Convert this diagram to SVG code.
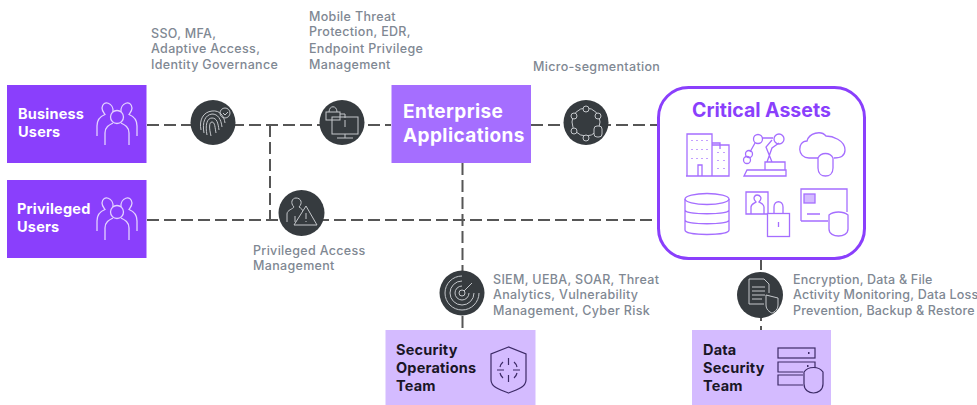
<svg xmlns="http://www.w3.org/2000/svg" width="977" height="405" viewBox="0 0 977 405">
<defs>
<style>
text{font-family:Inter,"Noto Sans","Liberation Sans",sans-serif}
.lbl{font-size:12.500px;font-weight:500;fill:#7f8893;letter-spacing:.32px}
.tight{letter-spacing:.2px}
.w{fill:#fff;font-weight:700;font-size:14.500px;letter-spacing:.2px}
.k{fill:#1a1626;font-weight:700;font-size:14.500px;letter-spacing:.2px}
.e{fill:#fff;font-weight:700;font-size:19px;letter-spacing:.4px}
.conn{fill:none;stroke:#565656;stroke-width:2;stroke-dasharray:12 5}
.disc{fill:#363b3f}
.ic{fill:none;stroke:#c4c7cb;stroke-width:1}
.wi{fill:none;stroke:#e3d2ff;stroke-width:1.300}
.pi{fill:none;stroke:#a56eff;stroke-width:1.300}
.di{fill:none;stroke:#3c2a66;stroke-width:1.200}
</style>
<g id="people">
<path d="M0 -12.500A6.500 6.500 0 1 1 0 0.500A6.500 6.500 0 1 1 0 -12.500Z"/>
<path d="M-12 22V10C-12 4 -8 2 -4 0M12 22V10C12 4 8 2 4 0"/>
<path d="M-4 -11C-3 -20 -14 -24 -15 -15C-15 -12 -13 -10 -12 -8.500C-16 -7 -20 -3 -20 3V13"/>
<path d="M4 -11C3 -20 14 -24 15 -15C15 -12 13 -10 12 -8.500C16 -7 20 -3 20 3V13"/>
</g>
</defs>
<rect width="977" height="405" fill="#fff"/>
<g id="connectors">
<path class="conn" d="M147 125H391"/>
<path class="conn" d="M270 125V220"/>
<path class="conn" d="M147 220H658"/>
<path class="conn" d="M531 125H658"/>
<path class="conn" d="M462.500 163V330"/>
<path class="conn" d="M761 258V330"/>
</g>
<g id="business-users">
<rect x="7" y="85" width="139.500" height="78" fill="#8a3ffc"/>
<text class="w" x="18" y="119">Business</text><text class="w" x="18" y="137">Users</text>
<use href="#people" x="117" y="123" class="wi"/>
</g>
<g id="privileged-users">
<rect x="7" y="180" width="139.500" height="78" fill="#8a3ffc"/>
<text class="w" x="17" y="214">Privileged</text><text class="w" x="17" y="232">Users</text>
<use href="#people" x="117" y="218" class="wi"/>
</g>
<g id="enterprise-applications">
<rect x="391.500" y="85" width="139.500" height="78" fill="#a56eff"/>
<text class="e" x="403" y="118">Enterprise</text>
<text class="e" x="403" y="141.500">Applications</text>
</g>
<g id="critical-assets">
<rect x="658.500" y="87.500" width="206" height="171" rx="30" fill="#fff" stroke="#8a3ffc" stroke-width="3"/>
<text x="692" y="117" fill="#8a3ffc" font-weight="700" font-size="19.500">Critical Assets</text>
<g class="pi">
<path d="M687 176V134H712V176M712 143H720V149M712 145H729V176H686M698 176V165H702V176"/>
<path d="M692 140v1M697 140v1M702 140v1M707 140v1M692 149v1M697 149v1M702 149v1M707 149v1M692 158v1M697 158v1M702 158v1M707 158v1M718 152v1M724 152v1M718 160v1M724 160v1M718 168v1M724 168v1"/>
<path d="M744 176l3-6H786V176ZM765 170V162H785V170M767 162L772 148 779 143M772 162L766 147 772 140"/>
<circle cx="779" cy="139" r="5"/><circle cx="758" cy="139" r="4.500"/><path d="M762 138H773M755 143L750 152"/><circle cx="749" cy="154" r="3.500"/><circle cx="747" cy="160" r="3.500"/>
<path d="M818 158H809C797 158 797 141 807 141 809 133 821 130 826 136 832 136 845 140 845 150 845 156 841 158 834 158"/>
<path d="M818 158C821 152 830 152 833 158V168C833 174 829 176 825.500 176 822 176 818 174 818 168Z"/>
<ellipse cx="707" cy="199" rx="22" ry="5.500"/><path d="M685 199V210C685 215 729 215 729 210V199M685 210V220C685 225 729 225 729 220V210M685 220V230C685 236 729 236 729 230V220"/>
<path d="M767 214H746V192H768V213"/>
<path d="M751 214V207C751 204 755 203 756 202 752 198 755 195 757 195 760 195 763 198 759 202 761 203 764 204 764 207V214"/>
<rect x="767.500" y="213.500" width="22" height="23" fill="#fff"/>
<path d="M774 213V207C774 200 783 200 783 207V213M778.500 222V227"/>
<path d="M801 221V189H847V212M801 221H828M807 214H820"/><rect x="804" y="194" width="11" height="9" fill="#d4bbff"/>
<path d="M829 215C834 211 843 211 848 215V229C848 234 843 236 838.500 236 834 236 829 234 829 229Z" fill="#fff"/>
</g>
</g>
<g id="security-operations-team">
<rect x="385.500" y="330" width="150" height="75" fill="#d4bbff"/>
<text class="k" x="396" y="355">Security</text><text class="k" x="396" y="373">Operations</text><text class="k" x="396" y="391">Team</text>
<g class="di"><path d="M508.500 347L491 354V380C491 387 500 390 508.500 393 517 390 526 387 526 380V354Z"/><path d="M503 362A9 9 0 0 0 500 367M514 362A9 9 0 0 1 517 367M500 373A9 9 0 0 0 503 378M517 373A9 9 0 0 1 514 378M497 370H504M513 370H520M508.500 358V365M508.500 375V382"/></g>
</g>
<g id="data-security-team">
<rect x="692" y="330" width="139" height="75" fill="#d4bbff"/>
<text class="k" x="703" y="355">Data</text><text class="k" x="703" y="373">Security</text><text class="k" x="703" y="391">Team</text>
<g class="di"><rect x="778" y="348" width="37" height="10"/><path d="M815 368V362H778V372H803M803 375H778V385H803"/><path d="M804 372C808 366 819 366 823 372V384C823 390 818 393 813.500 393 809 393 804 390 804 384Z"/><path d="M808 353h1.500M807 366h1.500" stroke-width="2"/></g>
</g>
<g id="sso-mfa">
<circle class="disc" cx="213" cy="122.500" r="22.500"/>
<g class="ic"><path d="M201 130C199 120 203 112 212 111 220 110 224 116 225 123M204 133C202 122 205 115 212 114 218 114 221 119 222 127M207 135C205 125 207 118 212 118 217 118 218 123 219 130M211 136C209 128 209 122 212 122 215 122 215 128 216 133"/><circle cx="225" cy="113" r="5"/><path d="M223 113l2 2 3-3"/></g>
<text class="lbl" x="151" y="38">SSO, MFA,</text><text class="lbl" x="151" y="53">Adaptive Access,</text><text class="lbl" x="151" y="69">Identity Governance</text>
</g>
<g id="endpoint">
<circle class="disc" cx="342" cy="122.500" r="22.500"/>
<g class="ic"><rect x="332" y="117" width="26" height="17"/><path d="M345 134v4M337 138H353M345 120V127"/><rect x="326" y="112" width="14" height="8"/><path d="M329 112C329 105 337 105 337 112M340 114H345V118"/></g>
<text class="lbl" x="309" y="21">Mobile Threat</text><text class="lbl" x="309" y="36">Protection, EDR,</text><text class="lbl" x="309" y="53">Endpoint Privilege</text><text class="lbl" x="309" y="69">Management</text>
</g>
<g id="micro-segmentation">
<circle class="disc" cx="586" cy="122.500" r="22.500"/>
<g class="ic"><circle cx="586" cy="122" r="14"/><g fill="#363b3f"><circle cx="586" cy="109" r="3"/><circle cx="574" cy="116" r="3"/><circle cx="598" cy="116" r="3"/><circle cx="574" cy="131" r="3"/><circle cx="586" cy="138" r="3"/><rect x="594" y="126" width="8" height="11" rx="3"/></g></g>
<text class="lbl" x="533" y="71">Micro-segmentation</text>
</g>
<g id="privileged-access">
<circle class="disc" cx="301.500" cy="213" r="23"/>
<g class="ic"><path d="M287 222V214C287 210 293 209 294 207 290 203 292 198 296 198 301 198 303 203 299 207 301 208 303 210 303 212M295 222V216"/><path d="M306 206L317 225H294Z" fill="#363b3f"/><path d="M306 213V219M306 221v1"/></g>
<text class="lbl" x="253" y="255">Privileged Access</text><text class="lbl" x="253" y="270">Management</text>
</g>
<g id="siem">
<circle class="disc" cx="462" cy="293" r="22.500"/>
<g class="ic"><circle cx="462" cy="293" r="3"/><path d="M462 281A12 12 0 1 0 474 293M462 286A7 7 0 1 0 469 293M462 276A17 17 0 1 0 479 293M464 291L472 283"/></g>
<text class="lbl" x="493" y="284">SIEM, UEBA, SOAR, Threat</text><text class="lbl" x="493" y="299">Analytics, Vulnerability</text><text class="lbl" x="493" y="315">Management, Cyber Risk</text>
</g>
<g id="data-protection">
<circle class="disc" cx="760" cy="295" r="23"/>
<g class="ic"><path d="M764 304H749V279H764L769 284V293M752 287H765M752 291H765M752 295H765M752 299H762"/><path d="M766 295L778 298V305C778 311 772 313 772 313 772 313 766 311 766 305Z" fill="#363b3f"/></g>
<text class="lbl tight" x="793" y="284">Encryption, Data &amp; File</text><text class="lbl tight" x="793" y="299">Activity Monitoring, Data Loss</text><text class="lbl tight" x="793" y="315">Prevention, Backup &amp; Restore</text>
</g>
</svg>
